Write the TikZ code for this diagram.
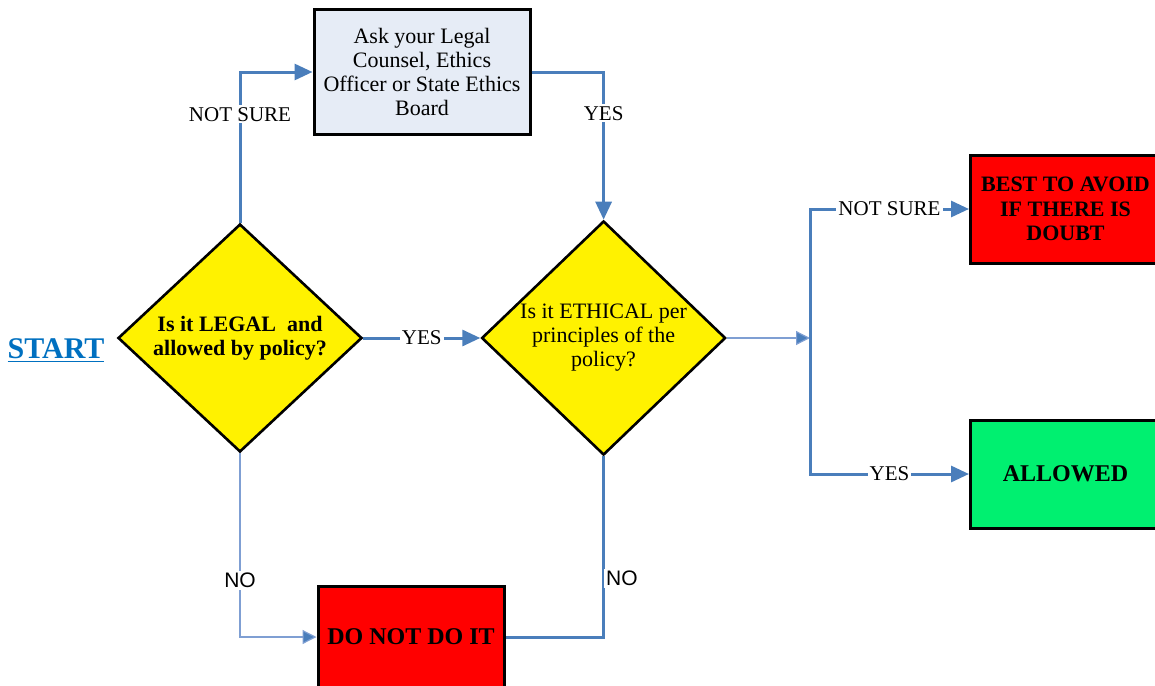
\documentclass[tikz,border=0pt]{standalone}
\usepackage{fontspec}
\setmainfont{Liberation Serif}
\newfontfamily\labelsans{Liberation Sans}
\usetikzlibrary{shapes.geometric,positioning,arrows.meta}
\definecolor{Flow}{HTML}{4A7EBB}
\definecolor{FlowThin}{HTML}{7F9FD3}
\definecolor{AskFill}{HTML}{E6ECF6}
\definecolor{GoGreen}{HTML}{00F070}
\definecolor{StartBlue}{HTML}{0070C0}
\tikzset{
  decision/.style={diamond, draw=black, line width=1.3pt, fill=yellow, minimum width=122pt, minimum height=114pt, inner sep=0pt, align=center, font=\fontsize{11}{12}\selectfont},
  outcome/.style={rectangle, draw=black, line width=1.5pt, fill=red, minimum width=93pt, minimum height=54pt, align=center, font=\bfseries\fontsize{11}{12.25}\selectfont},
  askbox/.style={rectangle, draw=black, line width=1.5pt, fill=AskFill, minimum width=108pt, minimum height=62.5pt, align=center, font=\fontsize{11}{12}\selectfont},
  flow/.style={draw=Flow, line width=1.5pt, -{Triangle[length=9pt,width=8pt]}},
  flowthin/.style={draw=FlowThin, line width=0.6pt, -{Triangle[length=7pt,width=7pt,fill=Flow]}},
  lbl/.style={fill=white, inner sep=1pt, text=black, font=\fontsize{10.5}{12}\selectfont},
  lblsans/.style={fill=white, inner sep=1pt, text=black, font=\labelsans\fontsize{10.5}{12}\selectfont}
}
\begin{document}
\begin{tikzpicture}[x=0.5pt, y=-0.5pt]
        \useasboundingbox (0,0) rectangle (1155,685);
        % decisions
        \node[decision, font=\bfseries\fontsize{11}{12}\selectfont] (legal) at (240,338) {Is it LEGAL\ \ and\\allowed by policy?};
        \node[decision, right=58.5pt of legal] (ethical) {Is it ETHICAL per\\principles of the\\policy?};
        \node[askbox] (ask) at (422,72) {Ask your Legal\\Counsel, Ethics\\Officer or State Ethics\\Board};
        \node[text=StartBlue, font=\bfseries\fontsize{15}{16}\selectfont] (start) at (56,351) {\underline{START}};

        % outcomes
        \node[outcome, minimum height=51pt, font=\bfseries\fontsize{12}{13}\selectfont] (donot) at (411,637) {DO NOT DO IT};
        \node[outcome, anchor=west, minimum width=95pt] (avoid) at (969,209) {BEST TO AVOID\\IF THERE IS\\DOUBT};
        \node[outcome, anchor=west, minimum width=95pt, fill=GoGreen, font=\bfseries\fontsize{12}{13}\selectfont] (allowed) at (969,474) {ALLOWED};
        \coordinate (split) at (810,338);

        % edges
        \draw[flow] (legal.north) |- node[lbl, pos=0.36] {NOT SURE} (ask.west);
        \draw[flow] (ask.east) -| node[lbl, pos=0.64] {YES} (ethical.north);
        \draw[flow] (legal.east) -- node[lbl] {YES} (ethical.west);
        \draw[flowthin] (ethical.east) -- (split);
        \draw[flow] (split) |- node[lbl, pos=0.75] {NOT SURE} (avoid.west);
        \draw[flow] (split) |- node[lbl, pos=0.75] {YES} (allowed.west);
        \draw[flowthin] (legal.south) |- node[lblsans, pos=0.346] {NO} (donot.west);
        \draw[draw=Flow, line width=1.5pt] (ethical.south) |- node[lblsans, pos=0.338, anchor=west, xshift=-0.5pt] {NO} (donot.east);
\end{tikzpicture}
\end{document}
